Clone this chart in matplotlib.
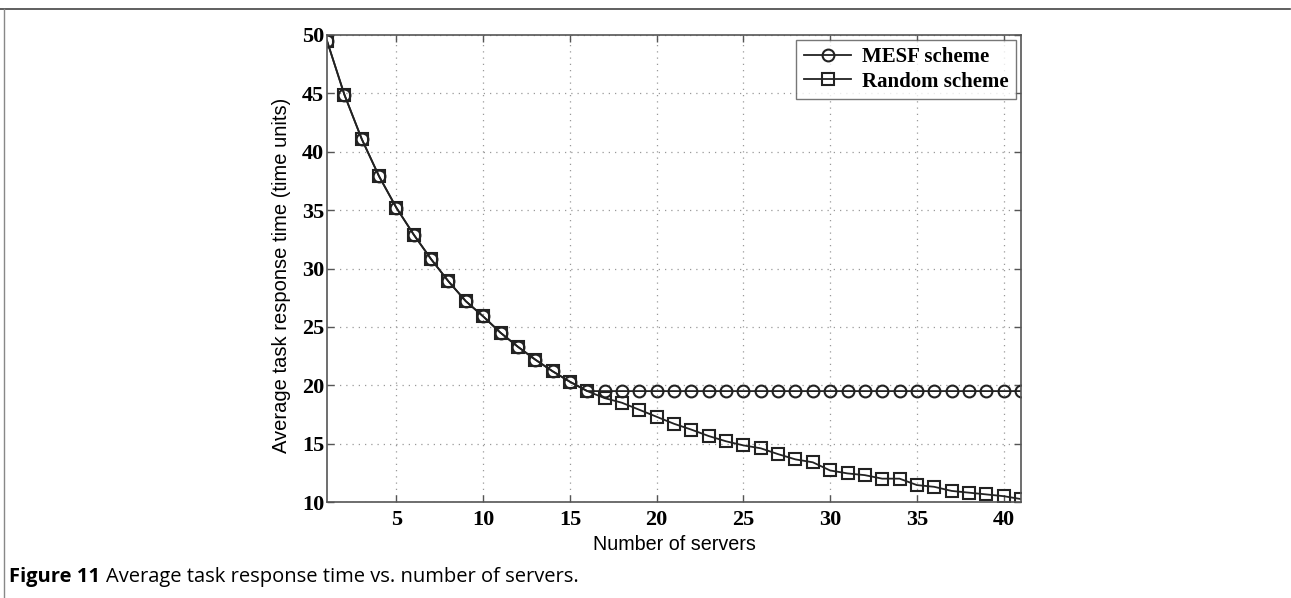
import matplotlib
matplotlib.use("Agg")
import matplotlib.pyplot as plt
from matplotlib.lines import Line2D

# servers 1..41
servers = list(range(1, 42))

random_scheme = [49.5, 44.9, 41.1, 37.9, 35.2, 32.9, 30.8, 28.9, 27.2, 25.9,
                 24.5, 23.3, 22.2, 21.2, 20.3, 19.5, 18.9, 18.5, 17.9, 17.3,
                 16.7, 16.2, 15.65, 15.2, 14.85, 14.6, 14.1, 13.65, 13.4, 12.7,
                 12.45, 12.3, 12.0, 12.0, 11.45, 11.3, 10.95, 10.8, 10.65, 10.5,
                 10.25]

mesf_scheme = random_scheme[:16] + [19.5] * 25

x_ticks = [5, 10, 15, 20, 25, 30, 35, 40]
y_ticks = [10, 15, 20, 25, 30, 35, 40, 45, 50]

W, H = 1291, 598
fig = plt.figure(figsize=(W / 100, H / 100), dpi=100)
ax = fig.add_axes([327 / W, 1 - 502 / H, (1021 - 327) / W, (502 - 35) / H])

ax.plot(servers, mesf_scheme, color='#222222', lw=1.3, marker='o', ms=8.5,
        mfc='none', mec='#222222', mew=1.5, label='MESF scheme')
ax.plot(servers, random_scheme, color='#222222', lw=1.3, marker='s', ms=8.5,
        mfc='none', mec='#222222', mew=1.5, label='Random scheme')

ax.set_xlim(1, 41)
ax.set_ylim(10, 50)
ax.set_xticks(x_ticks)
ax.set_yticks(y_ticks)
ax.grid(True, linestyle=(0, (1, 4)), color='#999999', lw=0.9)
ax.tick_params(direction='in', top=True, right=True, length=5, width=1,
               color='#555555', labelsize=16)
ax.tick_params(axis='x', pad=6)
ax.tick_params(axis='y', pad=2)
for lbl in ax.get_xticklabels() + ax.get_yticklabels():
    lbl.set_family('Liberation Serif')
    lbl.set_fontweight('bold')
for sp in ax.spines.values():
    sp.set_color('#555555')
    sp.set_linewidth(1.2)

ax.set_xlabel('Number of servers', family='Liberation Sans', fontsize=14.2)
ax.set_ylabel('Average task response time (time units)', family='Liberation Sans',
              fontsize=14.5)
ax.xaxis.set_label_coords(0.5, -0.07)
ax.yaxis.set_label_coords(-0.052, 0.485)

leg = ax.legend(loc='upper right', prop={'family': 'Liberation Serif', 'weight': 'bold', 'size': 15},
                fancybox=False, edgecolor='#555555', handlelength=2.3,
                borderpad=0.35, labelspacing=0.2, borderaxespad=0.25,
                handletextpad=0.5)
leg.get_frame().set_linewidth(1.0)

# page frame lines
fig.add_artist(Line2D([0, 0.999], [1 - 9 / H, 1 - 9 / H], color='#444444', lw=1.2))
fig.add_artist(Line2D([4 / W, 4 / W], [0, 1 - 9 / H], color='#888888', lw=1.0))

cap_y = 1 - 577 / H
cap_bold = fig.text(9 / W, cap_y, 'Figure 11', family='Open Sans', fontweight='bold',
                    fontsize=14.5, va='center')
fig.canvas.draw()
bb = cap_bold.get_window_extent()
fig.text((bb.x1 + 6) / W, cap_y, 'Average task response time vs. number of servers.',
         family='Open Sans', fontsize=14.5, va='center')

fig.savefig('out.png', dpi=100)
